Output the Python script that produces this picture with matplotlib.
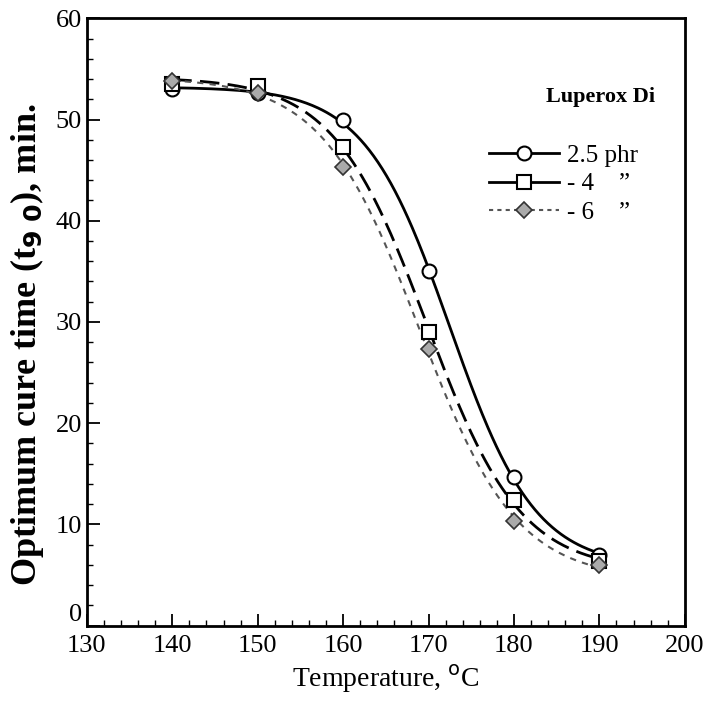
import numpy as np
import matplotlib
matplotlib.use("Agg")
import matplotlib.pyplot as plt
from matplotlib.ticker import MultipleLocator
from matplotlib.lines import Line2D

temps = [140, 150, 160, 170, 180, 190]
t90_25 = [53.0, 52.6, 50.0, 35.0, 14.7, 7.0]
t90_4 = [53.5, 53.3, 47.3, 29.0, 12.4, 6.4]
t90_6 = [53.8, 52.6, 45.3, 27.3, 10.3, 6.0]
labels = ["2.5 phr", "- 4    \u201d", "- 6    \u201d"]
xticks = [130, 140, 150, 160, 170, 180, 190, 200]
yticks = [0, 10, 20, 30, 40, 50, 60]


def logistic_fit(x, y, xs):
    """Least-squares fit of y = a + b / (1 + exp((x - c) / d)), evaluated on xs."""
    x = np.asarray(x, float); y = np.asarray(y, float)
    best = None
    for c in np.arange(155, 185, 0.1):
        for d in np.arange(1.5, 12, 0.1):
            s = 1.0 / (1.0 + np.exp((x - c) / d))
            A = np.column_stack([np.ones_like(x), s])
            coef, *_ = np.linalg.lstsq(A, y, rcond=None)
            r = np.sum((A @ coef - y) ** 2)
            if best is None or r < best[0]:
                best = (r, c, d, coef)
    _, c, d, coef = best
    return coef[0] + coef[1] / (1.0 + np.exp((xs - c) / d))


plt.rcParams['font.family'] = ['Liberation Serif', 'DejaVu Serif']
fig = plt.figure(figsize=(7.06, 7.03), dpi=100)
ax = fig.add_axes([0.123, 0.11, 0.847, 0.864])

xs = np.linspace(140, 190, 300)
ax.plot(xs, logistic_fit(temps, t90_25, xs), color='black', lw=2.0, ls='-')
ax.plot(xs, logistic_fit(temps, t90_4, xs), color='black', lw=2.0, ls=(0, (7, 3)))
ax.plot(xs, logistic_fit(temps, t90_6, xs), color='#555555', lw=1.5, ls=(0, (3, 3)))

ax.plot(temps, t90_25, ls='none', marker='o', ms=10, mfc='white', mec='black', mew=1.5)
ax.plot(temps, t90_4, ls='none', marker='s', ms=10, mfc='white', mec='black', mew=1.5)
ax.plot(temps, t90_6, ls='none', marker='D', ms=8, mfc='#aaaaaa', mec='#333333', mew=1.2)

handles = [
    Line2D([], [], color='black', lw=2, ls='-', marker='o', ms=10, mfc='white', mec='black', mew=1.5),
    Line2D([], [], color='black', lw=2, ls='-', marker='s', ms=10, mfc='white', mec='black', mew=1.5),
    Line2D([], [], color='#555555', lw=1.5, ls=(0, (2, 2)), marker='D', ms=8, mfc='#aaaaaa', mec='#333333', mew=1.2),
]
ax.legend(handles, labels, loc='upper left', bbox_to_anchor=(0.635, 0.83),
          frameon=False, fontsize=18, handlelength=2.8, labelspacing=0.25,
          handletextpad=0.3)
ax.text(0.768, 0.87, "Luperox Di", transform=ax.transAxes, fontsize=16,
        fontweight='bold', ha='left', va='center')

ax.set_xlim(130, 200)
ax.set_ylim(0, 60)
ax.set_xticks(xticks)
ax.set_yticks(yticks)
ax.xaxis.set_minor_locator(MultipleLocator(2))
ax.yaxis.set_minor_locator(MultipleLocator(2))
ax.tick_params(which='major', direction='in', length=9, width=1.3, labelsize=19)
ax.tick_params(which='minor', direction='in', length=4, width=1.0)
ax.tick_params(axis='x', which='major', pad=7)
for s in ax.spines.values():
    s.set_linewidth(2.0)

ax.set_xlabel("Temperature, $^{\\mathrm{o}}$C", fontsize=20, labelpad=4)
ax.set_ylabel("Optimum cure time (t$_{\\mathbf{9\\ 0}}$), min.", fontsize=26,
              fontweight='bold', labelpad=8)
ax.yaxis.set_label_coords(-0.068, 0.462)

ax.yaxis.get_major_ticks()[0].label1.set_verticalalignment('bottom')

fig.savefig("out.png", dpi=100)
